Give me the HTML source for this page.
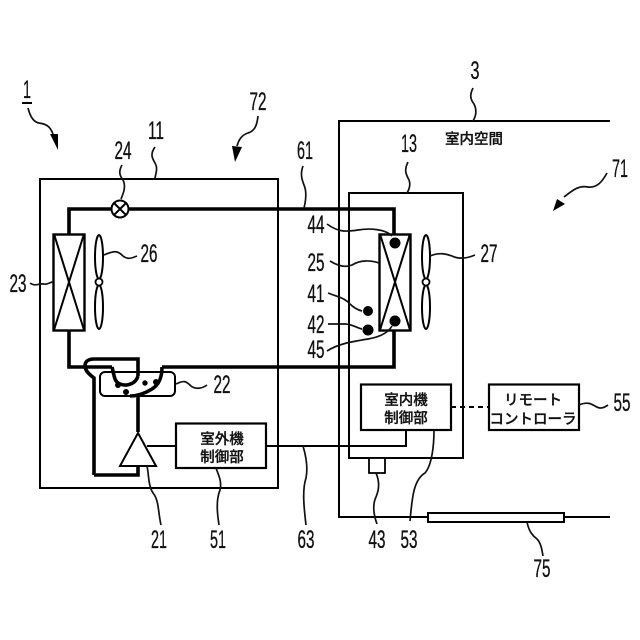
<!DOCTYPE html>
<html>
<head>
<meta charset="utf-8">
<style>
html,body{margin:0;padding:0;background:#fff;width:640px;height:640px;overflow:hidden}
svg{display:block}
.n{font-family:"Liberation Sans",sans-serif;font-size:25px;fill:#111;stroke:#111;stroke-width:.35;text-anchor:middle}
.j{font-family:"Liberation Sans","Noto Sans CJK JP",sans-serif;font-size:14.5px;fill:#111;stroke:#111;stroke-width:.3;text-anchor:middle;font-weight:500}
.t{fill:none;stroke:#000;stroke-width:2}
.k{fill:none;stroke:#000;stroke-width:3.6}
.l{fill:none;stroke:#111;stroke-width:1.7}
</style>
</head>
<body>
<svg width="640" height="640" viewBox="0 0 640 640" xmlns="http://www.w3.org/2000/svg">
<rect width="640" height="640" fill="#fff"/>

<!-- enclosures -->
<rect x="40" y="179" width="238" height="309" class="t"/>
<path d="M610 121H339V517H428M564 517H610" class="t"/>
<rect x="349" y="193" width="114" height="265" class="t"/>

<!-- refrigerant pipe -->
<path d="M69 234V209H111M129 209H394V234M394 330V367H162M69 330V367H112" class="k"/>

<!-- separator -->
<rect x="100" y="372" width="75" height="24" rx="5" class="t" stroke-width="2.4"/>
<path d="M94 475V378C90 375 85 371 85 366C85 361 89 359 94 359H138V376" class="k"/>
<path d="M112 367C114 374 114 382 120 384C128 387 136 383 138 376" class="k"/>
<path d="M162 367C162 376 160 384 152 389C144 394 136 396 130 396" class="k" stroke-width="3"/>
<circle cx="118" cy="385" r="3"/><circle cx="145" cy="383" r="2.700"/><circle cx="156" cy="382" r="3"/><circle cx="126" cy="392" r="3"/>
<path d="M138 396V432M138 466V475H94" class="k"/>

<!-- compressor -->
<path d="M138 433L120 466H156Z" fill="#fff" stroke="#000" stroke-width="2"/>
<path d="M147 446H176" class="t"/>

<!-- valve -->
<circle cx="120" cy="209" r="8.500" fill="#fff" stroke="#000" stroke-width="2"/>
<path d="M114 203L126 215M126 203L114 215" class="t"/>

<!-- condenser -->
<rect x="53.500" y="234.500" width="31" height="96" fill="#fff" stroke="#000" stroke-width="2.400"/>
<path d="M54 234L84 330M84 234L54 330" class="t" stroke-width="1.600"/>
<ellipse cx="99" cy="257" rx="4" ry="22" class="t" stroke-width="1.800"/>
<ellipse cx="99" cy="307" rx="4" ry="22" class="t" stroke-width="1.800"/>
<circle cx="99" cy="282" r="3.500" fill="#fff" stroke="#000" stroke-width="1.800"/>

<!-- evaporator -->
<rect x="379.500" y="234.500" width="31" height="96" fill="#fff" stroke="#000" stroke-width="2.400"/>
<path d="M380 234L410 330M410 234L380 330" class="t" stroke-width="1.600"/>
<ellipse cx="426" cy="257" rx="4" ry="22" class="t" stroke-width="1.800"/>
<ellipse cx="426" cy="307" rx="4" ry="22" class="t" stroke-width="1.800"/>
<circle cx="426" cy="282" r="3.500" fill="#fff" stroke="#000" stroke-width="1.800"/>
<circle cx="395" cy="243" r="5.500"/><circle cx="395" cy="321" r="5.500"/>
<circle cx="368" cy="311" r="5"/><circle cx="368" cy="330" r="5.500"/>

<!-- controllers -->
<rect x="176" y="423.500" width="90" height="44.500" fill="#fff" stroke="#000" stroke-width="2.200"/>
<rect x="361" y="384.500" width="90" height="45.500" fill="#fff" stroke="#000" stroke-width="2.200"/>
<rect x="489" y="384.500" width="90" height="45.500" fill="#fff" stroke="#000" stroke-width="2.200"/>
<path d="M266 446H406V430" class="t" stroke-width="1.600"/>
<path d="M451 407H489" class="t" stroke-width="1.600" stroke-dasharray="5 4"/>

<!-- sensor 43, panel 75 -->
<rect x="369" y="458" width="16" height="15" fill="#fff" stroke="#000" stroke-width="1.800"/>
<rect x="428" y="513" width="136" height="9" fill="#fff" stroke="#000" stroke-width="2"/>

<!-- leader lines -->
<path d="M22 103H32" class="t"/>
<path d="M28 108C30 116 33 122 39 123C46 124 50 126 53 134" class="l"/>
<path d="M50 134L58 134L58 150Z"/>
<path d="M258 116C257 125 255 131 248 133C242 135 239 139 237 146" class="l"/>
<path d="M232 146L242 147L235 162Z"/>
<path d="M607 173C602 182 597 188 588 187C578 185 572 191 564 197" class="l"/>
<path d="M557 199L565 204L553 211Z"/>
<path d="M155 147C150 154 152 158 155 163C158 168 156 173 155 178" class="l"/>
<path d="M122 165C118 172 120 176 123 180C126 186 124 192 121 199" class="l"/>
<path d="M303 166C300 174 302 180 304 185C307 192 306 200 304 208" class="l"/>
<path d="M104 255C115 250 118 251 123 256C128 260 132 258 137 256" class="l"/>
<path d="M30 283C35 287 40 283 44 284C47 285 50 282 53 282" class="l"/>
<path d="M176 384C184 380 186 381 191 386C196 390 203 388 207 385" class="l"/>
<path d="M147 466C149 475 148 485 153 493C159 500 158 512 161 525" class="l"/>
<path d="M216 468C219 476 222 482 220 490C216 500 217 512 219 525" class="l"/>
<path d="M303 446C306 456 308 468 306 478C302 490 304 508 306 525" class="l"/>
<path d="M376 473C380 482 379 490 376 497C372 505 374 516 377 524" class="l"/>
<path d="M434 430C434 445 432 465 425 473C413 480 412 500 410 521" class="l"/>
<path d="M527 522C529 532 533 536 537 539C541 543 542 550 543 556" class="l"/>
<path d="M579 405C586 402 590 403 595 406C601 410 605 407 608 405" class="l"/>
<path d="M473 88C469 96 471 100 474 104C477 110 476 116 473 121" class="l"/>
<path d="M408 162C404 170 406 174 408 178C411 183 410 188 407 193" class="l"/>
<path d="M327 224C338 232 345 232 358 230C370 228 385 229 392 236" class="l"/>
<path d="M330 261C338 266 345 268 352 265C360 260 370 260 379 263" class="l"/>
<path d="M328 293C338 297 345 298 350 304C354 308 358 310 362 311" class="l"/>
<path d="M328 324H345C352 324 357 328 362 329" class="l"/>
<path d="M327 351C338 344 350 342 368 339C380 337 388 333 392 326" class="l"/>
<path d="M430 256C440 252 446 254 452 256C460 260 468 258 475 255" class="l"/>

<!-- numerals -->
<g>
<text x="27" y="98" class="n" textLength="8" lengthAdjust="spacingAndGlyphs">1</text>
<text x="258" y="110" class="n" textLength="17" lengthAdjust="spacingAndGlyphs">72</text>
<text x="156" y="139" class="n" textLength="16" lengthAdjust="spacingAndGlyphs">11</text>
<text x="123" y="159" class="n" textLength="17" lengthAdjust="spacingAndGlyphs">24</text>
<text x="305" y="159" class="n" textLength="16" lengthAdjust="spacingAndGlyphs">61</text>
<text x="149" y="262" class="n" textLength="17" lengthAdjust="spacingAndGlyphs">26</text>
<text x="18" y="292" class="n" textLength="17" lengthAdjust="spacingAndGlyphs">23</text>
<text x="222" y="393" class="n" textLength="17" lengthAdjust="spacingAndGlyphs">22</text>
<text x="159" y="548" class="n" textLength="16" lengthAdjust="spacingAndGlyphs">21</text>
<text x="218" y="548" class="n" textLength="16" lengthAdjust="spacingAndGlyphs">51</text>
<text x="306" y="548" class="n" textLength="17" lengthAdjust="spacingAndGlyphs">63</text>
<text x="377" y="548" class="n" textLength="17" lengthAdjust="spacingAndGlyphs">43</text>
<text x="409" y="548" class="n" textLength="17" lengthAdjust="spacingAndGlyphs">53</text>
<text x="542" y="577" class="n" textLength="17" lengthAdjust="spacingAndGlyphs">75</text>
<text x="622" y="411" class="n" textLength="17" lengthAdjust="spacingAndGlyphs">55</text>
<text x="475" y="79" class="n" textLength="9" lengthAdjust="spacingAndGlyphs">3</text>
<text x="409" y="152" class="n" textLength="16" lengthAdjust="spacingAndGlyphs">13</text>
<text x="620" y="177" class="n" textLength="16" lengthAdjust="spacingAndGlyphs">71</text>
<text x="489" y="262" class="n" textLength="17" lengthAdjust="spacingAndGlyphs">27</text>
<text x="316" y="233" class="n" textLength="17" lengthAdjust="spacingAndGlyphs">44</text>
<text x="316" y="271" class="n" textLength="17" lengthAdjust="spacingAndGlyphs">25</text>
<text x="316" y="302" class="n" textLength="17" lengthAdjust="spacingAndGlyphs">41</text>
<text x="316" y="333" class="n" textLength="17" lengthAdjust="spacingAndGlyphs">42</text>
<text x="316" y="358" class="n" textLength="17" lengthAdjust="spacingAndGlyphs">45</text>
</g>

<!-- Japanese labels -->
<text x="474" y="144" class="j">室内空間</text>
<text x="222" y="444" class="j">室外機</text>
<text x="222" y="462" class="j">制御部</text>
<text x="406" y="405" class="j">室内機</text>
<text x="406" y="423" class="j">制御部</text>
<text x="533" y="405" class="j">リモート</text>
<text x="533" y="424" class="j">コントローラ</text>
</svg>
</body>
</html>
